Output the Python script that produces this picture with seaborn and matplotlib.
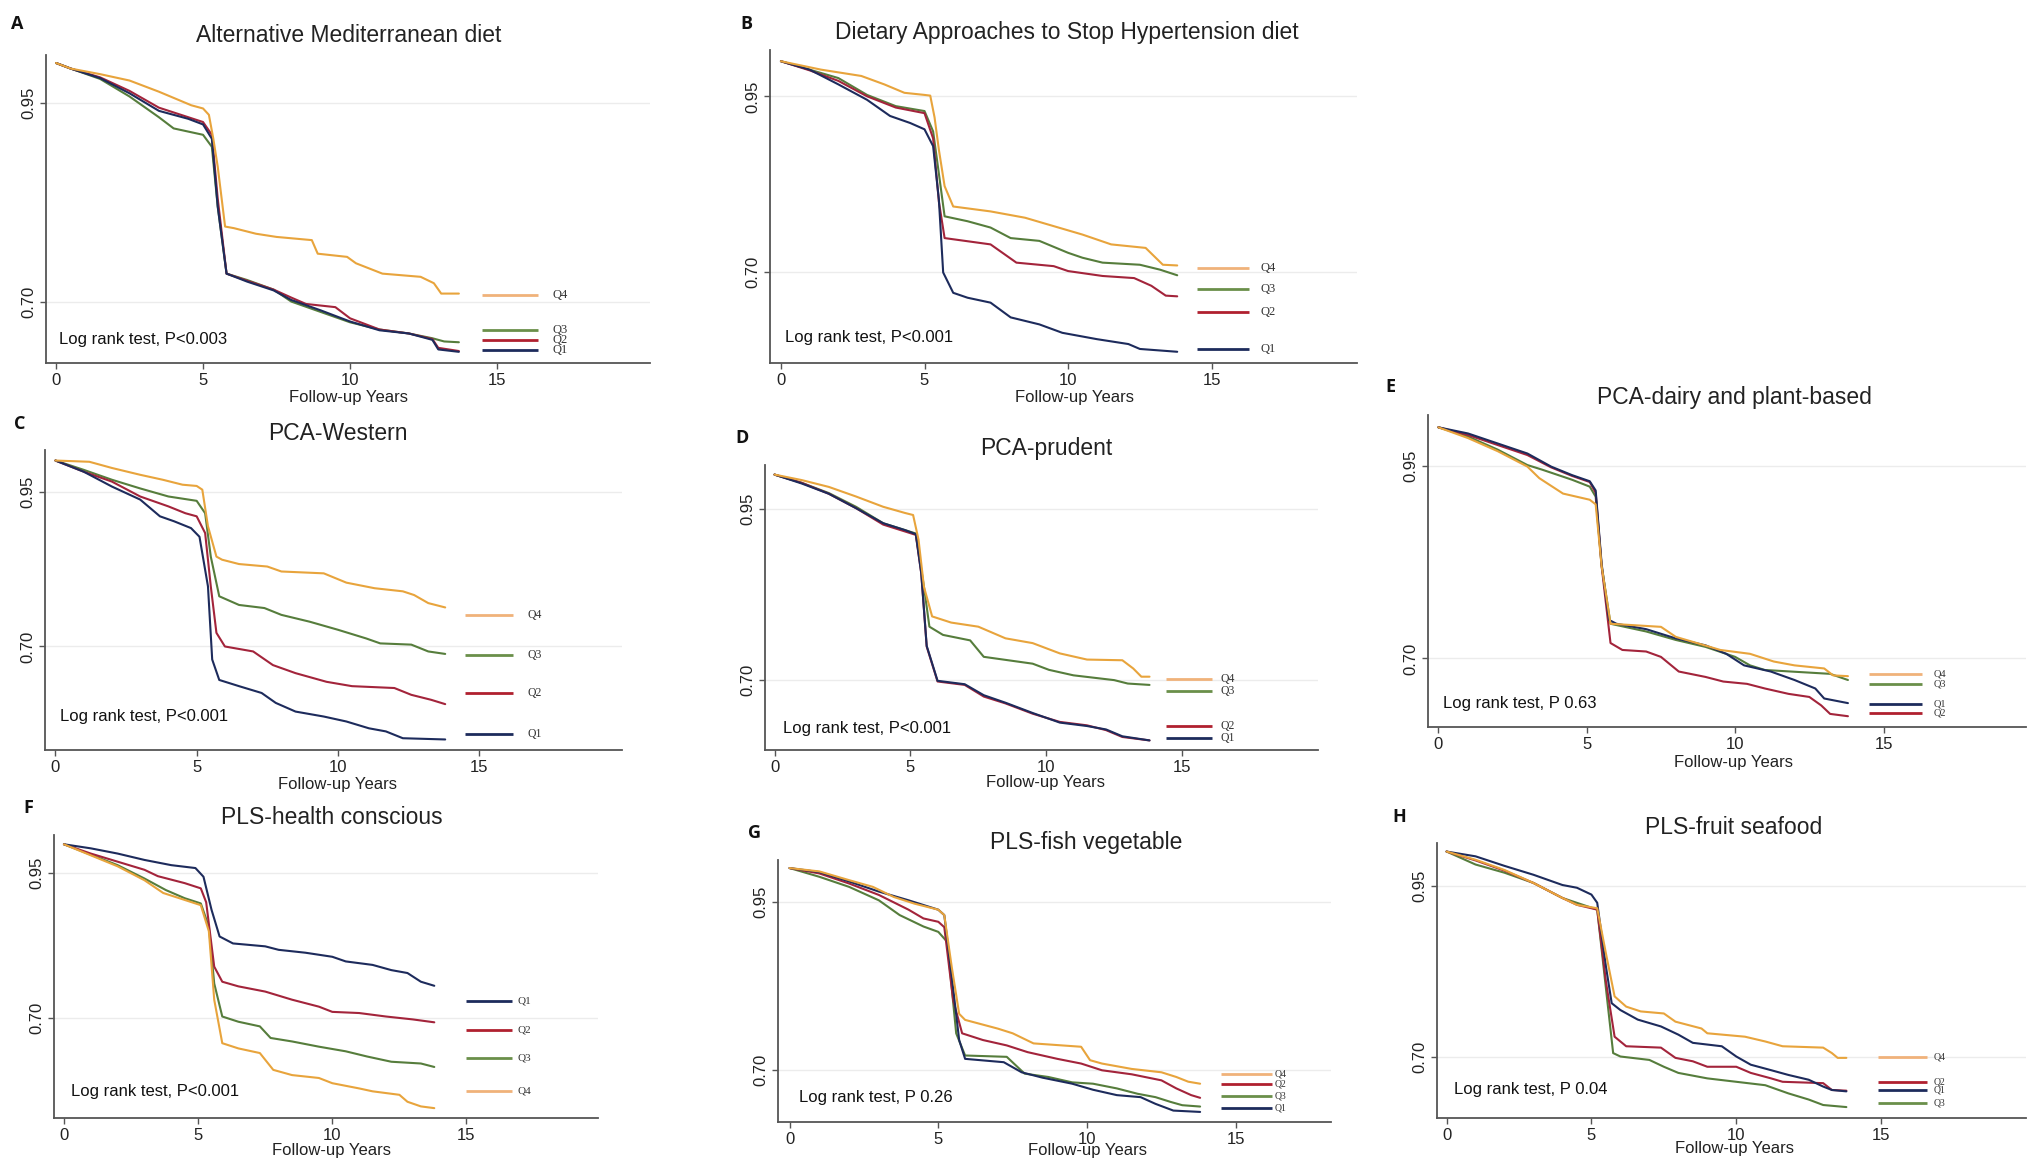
import pandas as pd
import numpy as np
import matplotlib
matplotlib.use("Agg")
import matplotlib.pyplot as plt
import seaborn as sns

# ---------------- data: (follow-up years, survival) ----------------
A_Q1 = [(0, 1.0), (0.5, 0.993), (1.5, 0.981), (2.5, 0.962), (3.5, 0.94), (4.5, 0.93), (5.0, 0.923), (5.3, 0.905),
        (5.5, 0.82), (5.8, 0.736), (6.5, 0.726), (7.4, 0.715), (8.0, 0.703), (9.0, 0.69), (10.0, 0.676),
        (11.0, 0.665), (12.0, 0.661), (12.8, 0.653), (13.0, 0.641), (13.7, 0.638)]
A_Q2 = [(0, 1.0), (0.5, 0.993), (1.5, 0.982), (2.5, 0.965), (3.5, 0.944), (4.5, 0.932), (5.0, 0.926), (5.3, 0.91),
        (5.5, 0.83), (5.8, 0.736), (6.5, 0.727), (7.4, 0.716), (8.0, 0.706), (8.5, 0.698), (9.5, 0.694), (10.0, 0.68),
        (11.0, 0.666), (12.0, 0.661), (12.8, 0.654), (13.0, 0.643), (13.7, 0.639)]
A_Q3 = [(0, 1.0), (0.5, 0.993), (1.5, 0.98), (2.5, 0.958), (3.5, 0.932), (4.0, 0.918), (5.0, 0.91), (5.3, 0.895),
        (5.5, 0.82), (5.8, 0.736), (6.5, 0.728), (7.4, 0.716), (8.0, 0.701), (9.0, 0.688), (10.0, 0.675),
        (11.0, 0.666), (12.0, 0.661), (12.8, 0.655), (13.2, 0.651), (13.7, 0.65)]
A_Q4 = [(0, 1.0), (0.5, 0.993), (1.5, 0.986), (2.5, 0.978), (3.5, 0.964), (4.6, 0.947), (5.0, 0.943), (5.2, 0.935),
        (5.35, 0.905), (5.5, 0.87), (5.75, 0.795), (6.05, 0.793), (6.8, 0.786), (7.5, 0.782), (8.7, 0.778),
        (8.9, 0.761), (9.9, 0.757), (10.2, 0.749), (11.1, 0.736), (12.4, 0.732), (12.85, 0.724), (13.1, 0.711),
        (13.7, 0.711)]

B_Q1 = [(0, 1.0), (1.0, 0.988), (2.0, 0.967), (3.0, 0.945), (3.8, 0.922), (4.5, 0.912), (5.0, 0.903), (5.3, 0.879),
        (5.5, 0.803), (5.65, 0.699), (6.0, 0.67), (6.5, 0.663), (7.3, 0.656), (8.0, 0.635), (9.0, 0.625),
        (9.8, 0.613), (11.0, 0.604), (12.1, 0.597), (12.5, 0.59), (13.8, 0.586)]
B_Q2 = [(0, 1.0), (1.0, 0.987), (2.0, 0.972), (3.0, 0.95), (4.0, 0.934), (5.0, 0.926), (5.3, 0.89), (5.5, 0.8),
        (5.7, 0.748), (7.3, 0.739), (8.2, 0.713), (9.5, 0.708), (10.0, 0.701), (11.2, 0.694), (12.3, 0.691),
        (12.9, 0.68), (13.4, 0.666), (13.8, 0.665)]
B_Q3 = [(0, 1.0), (1.0, 0.988), (2.0, 0.976), (3.0, 0.952), (4.0, 0.936), (5.0, 0.929), (5.3, 0.9), (5.5, 0.84),
        (5.7, 0.779), (6.5, 0.772), (7.3, 0.763), (8.0, 0.748), (9.0, 0.744), (10.0, 0.727), (10.5, 0.72),
        (11.2, 0.713), (12.5, 0.71), (13.2, 0.703), (13.8, 0.695)]
B_Q4 = [(0, 1.0), (1.4, 0.988), (2.8, 0.979), (3.6, 0.967), (4.3, 0.955), (5.0, 0.952), (5.2, 0.951), (5.35, 0.92),
        (5.5, 0.874), (5.7, 0.822), (6.0, 0.793), (7.3, 0.786), (8.5, 0.777), (9.5, 0.765), (10.5, 0.753),
        (11.5, 0.739), (12.7, 0.734), (13.0, 0.722), (13.3, 0.71), (13.8, 0.709)]

C_Q1 = [(0, 1.0), (1.0, 0.982), (2.0, 0.958), (3.0, 0.937), (3.7, 0.91), (4.2, 0.902), (4.8, 0.891), (5.1, 0.877),
        (5.4, 0.797), (5.55, 0.679), (5.8, 0.646), (6.5, 0.636), (7.3, 0.625), (7.8, 0.609), (8.5, 0.595),
        (9.5, 0.587), (10.3, 0.579), (11.1, 0.568), (11.7, 0.563), (12.3, 0.552), (13.8, 0.55)]
C_Q2 = [(0, 1.0), (1.0, 0.982), (2.0, 0.966), (3.0, 0.942), (4.0, 0.926), (4.6, 0.915), (5.0, 0.91), (5.3, 0.883),
        (5.5, 0.797), (5.7, 0.722), (6.0, 0.70), (7.0, 0.692), (7.7, 0.67), (8.5, 0.657), (9.6, 0.643),
        (10.5, 0.636), (12.0, 0.633), (12.6, 0.622), (13.3, 0.614), (13.8, 0.607)]
C_Q3 = [(0, 1.0), (1.0, 0.985), (2.0, 0.969), (3.0, 0.955), (4.0, 0.942), (5.0, 0.935), (5.3, 0.915), (5.5, 0.845),
        (5.8, 0.781), (6.5, 0.767), (7.4, 0.762), (8.0, 0.751), (9.0, 0.74), (10.0, 0.727), (11.0, 0.713),
        (11.5, 0.705), (12.6, 0.703), (13.2, 0.692), (13.8, 0.688)]
C_Q4 = [(0, 1.0), (1.2, 0.998), (2.0, 0.988), (3.0, 0.977), (3.8, 0.969), (4.5, 0.961), (5.0, 0.959), (5.2, 0.953),
        (5.4, 0.894), (5.7, 0.845), (5.9, 0.84), (6.5, 0.833), (7.5, 0.829), (8.0, 0.821), (9.5, 0.818),
        (10.3, 0.803), (11.3, 0.794), (12.3, 0.789), (12.7, 0.783), (13.2, 0.77), (13.8, 0.763)]

D_Q1 = [(0, 1.0), (1.0, 0.987), (2.0, 0.972), (3.0, 0.951), (4.0, 0.929), (4.8, 0.919), (5.2, 0.913), (5.4, 0.856),
        (5.6, 0.75), (6.0, 0.699), (7.0, 0.694), (7.7, 0.678), (8.5, 0.667), (9.5, 0.652), (10.5, 0.638),
        (11.5, 0.633), (12.2, 0.628), (12.8, 0.618), (13.8, 0.612)]
D_Q2 = [(0, 1.0), (1.0, 0.988), (2.0, 0.972), (3.0, 0.951), (4.0, 0.927), (4.8, 0.917), (5.2, 0.912), (5.4, 0.856),
        (5.6, 0.749), (6.0, 0.698), (7.0, 0.693), (7.7, 0.676), (8.5, 0.666), (9.5, 0.651), (10.5, 0.639),
        (11.5, 0.634), (12.2, 0.627), (12.8, 0.617), (13.8, 0.612)]
D_Q3 = [(0, 1.0), (1.0, 0.988), (2.0, 0.973), (3.0, 0.953), (4.0, 0.929), (4.8, 0.919), (5.2, 0.914), (5.5, 0.836),
        (5.7, 0.778), (6.2, 0.766), (7.2, 0.758), (7.7, 0.734), (9.5, 0.724), (10.1, 0.715), (11.0, 0.707),
        (12.5, 0.70), (13.0, 0.695), (13.8, 0.693)]
D_Q4 = [(0, 1.0), (1.0, 0.992), (2.0, 0.982), (3.0, 0.968), (4.0, 0.953), (4.8, 0.944), (5.1, 0.941), (5.3, 0.905),
        (5.5, 0.836), (5.8, 0.793), (6.5, 0.784), (7.5, 0.778), (8.5, 0.761), (9.5, 0.754), (10.5, 0.739),
        (11.5, 0.73), (12.8, 0.729), (13.2, 0.717), (13.5, 0.705), (13.8, 0.705)]

E_Q1 = [(0, 1.0), (1.0, 0.992), (2.0, 0.979), (3.0, 0.966), (3.8, 0.949), (4.5, 0.938), (5.1, 0.93), (5.3, 0.918),
        (5.5, 0.823), (5.75, 0.75), (6.0, 0.745), (7.0, 0.738), (8.0, 0.726), (9.0, 0.717), (9.7, 0.706),
        (10.3, 0.691), (11.2, 0.683), (12.0, 0.672), (12.7, 0.661), (13.0, 0.648), (13.8, 0.642)]
E_Q2 = [(0, 1.0), (1.0, 0.99), (2.0, 0.977), (3.0, 0.964), (3.8, 0.948), (4.5, 0.937), (5.1, 0.929), (5.3, 0.915),
        (5.5, 0.82), (5.8, 0.72), (6.2, 0.711), (7.0, 0.709), (7.5, 0.702), (8.1, 0.683), (9.0, 0.676),
        (9.6, 0.67), (10.4, 0.667), (11.0, 0.661), (11.8, 0.654), (12.5, 0.65), (12.9, 0.639), (13.2, 0.628),
        (13.8, 0.625)]
E_Q3 = [(0, 1.0), (1.0, 0.988), (2.0, 0.971), (3.0, 0.951), (3.5, 0.945), (4.5, 0.932), (5.1, 0.923), (5.3, 0.91),
        (5.5, 0.82), (5.8, 0.745), (7.0, 0.735), (8.0, 0.724), (9.0, 0.715), (10.0, 0.702), (10.5, 0.691),
        (11.0, 0.685), (13.2, 0.68), (13.8, 0.672)]
E_Q4 = [(0, 1.0), (1.0, 0.986), (2.0, 0.969), (3.0, 0.949), (3.4, 0.934), (4.2, 0.914), (5.1, 0.906), (5.3, 0.9),
        (5.5, 0.82), (5.8, 0.745), (7.5, 0.741), (8.0, 0.728), (9.5, 0.711), (10.5, 0.706), (11.3, 0.696),
        (12.0, 0.691), (13.0, 0.687), (13.3, 0.678), (13.8, 0.677)]

F_Q1 = [(0, 1.0), (1.0, 0.993), (2.0, 0.984), (3.0, 0.973), (4.0, 0.964), (4.9, 0.959), (5.2, 0.944), (5.5, 0.887),
        (5.8, 0.841), (6.3, 0.829), (7.5, 0.824), (8.0, 0.818), (9.0, 0.813), (10.0, 0.806), (10.5, 0.798),
        (11.5, 0.792), (12.2, 0.783), (12.8, 0.778), (13.3, 0.763), (13.8, 0.756)]
F_Q2 = [(0, 1.0), (1.0, 0.984), (2.0, 0.97), (3.0, 0.956), (3.5, 0.945), (4.5, 0.933), (5.1, 0.924), (5.3, 0.9),
        (5.6, 0.789), (5.9, 0.763), (6.5, 0.755), (7.5, 0.746), (8.5, 0.732), (9.5, 0.72), (10.0, 0.711),
        (11.0, 0.709), (12.0, 0.703), (13.0, 0.698), (13.8, 0.693)]
F_Q3 = [(0, 1.0), (1.0, 0.982), (2.0, 0.964), (3.0, 0.941), (3.8, 0.921), (4.5, 0.907), (5.1, 0.898), (5.4, 0.858),
        (5.6, 0.76), (5.9, 0.703), (6.5, 0.694), (7.3, 0.686), (7.7, 0.666), (8.5, 0.66), (9.5, 0.651),
        (10.5, 0.643), (11.3, 0.634), (12.2, 0.625), (13.3, 0.622), (13.8, 0.616)]
F_Q4 = [(0, 1.0), (1.0, 0.981), (2.0, 0.962), (3.0, 0.938), (3.7, 0.916), (4.5, 0.904), (5.1, 0.895), (5.4, 0.85),
        (5.6, 0.732), (5.9, 0.657), (6.5, 0.648), (7.3, 0.64), (7.8, 0.611), (8.5, 0.602), (9.5, 0.597),
        (10.0, 0.588), (11.0, 0.579), (11.5, 0.574), (12.5, 0.568), (12.8, 0.556), (13.3, 0.548), (13.8, 0.545)]

G_Q1 = [(0, 1.0), (1.0, 0.994), (2.0, 0.98), (3.0, 0.965), (4.0, 0.952), (4.5, 0.945), (5.0, 0.938), (5.2, 0.93),
        (5.5, 0.82), (5.7, 0.744), (5.9, 0.716), (7.2, 0.711), (7.8, 0.696), (8.5, 0.688), (9.5, 0.679),
        (10.2, 0.67), (11.0, 0.662), (11.8, 0.659), (12.3, 0.649), (12.9, 0.639), (13.8, 0.637)]
G_Q2 = [(0, 1.0), (1.0, 0.992), (2.0, 0.977), (3.0, 0.96), (4.0, 0.938), (4.5, 0.925), (5.0, 0.92), (5.2, 0.912),
        (5.5, 0.803), (5.8, 0.754), (6.5, 0.744), (7.3, 0.736), (8.0, 0.726), (9.0, 0.716), (9.8, 0.709),
        (10.5, 0.699), (11.5, 0.693), (12.5, 0.684), (13.0, 0.672), (13.5, 0.662), (13.8, 0.658)]
G_Q3 = [(0, 1.0), (1.0, 0.987), (2.0, 0.972), (3.0, 0.952), (3.7, 0.93), (4.5, 0.913), (5.0, 0.905), (5.3, 0.89),
        (5.6, 0.754), (5.9, 0.721), (7.3, 0.719), (7.9, 0.694), (8.7, 0.689), (9.5, 0.681), (10.2, 0.679),
        (11.0, 0.672), (11.7, 0.664), (12.3, 0.659), (12.8, 0.652), (13.2, 0.647), (13.8, 0.645)]
G_Q4 = [(0, 1.0), (1.0, 0.995), (2.0, 0.982), (2.8, 0.972), (3.5, 0.957), (4.2, 0.947), (5.0, 0.938), (5.2, 0.93),
        (5.45, 0.853), (5.7, 0.783), (5.9, 0.774), (7.0, 0.761), (7.5, 0.754), (8.2, 0.739), (9.8, 0.734),
        (10.1, 0.714), (10.5, 0.709), (11.5, 0.701), (12.5, 0.696), (13.0, 0.689), (13.4, 0.682), (13.8, 0.679)]

H_Q1 = [(0, 1.0), (1.0, 0.993), (2.0, 0.979), (3.0, 0.966), (4.0, 0.951), (4.5, 0.947), (5.0, 0.937), (5.2, 0.925),
        (5.5, 0.832), (5.7, 0.778), (6.0, 0.768), (6.6, 0.754), (7.4, 0.744), (8.0, 0.732), (8.5, 0.72),
        (9.5, 0.715), (10.0, 0.70), (10.5, 0.688), (11.2, 0.68), (11.8, 0.673), (12.5, 0.666), (13.0, 0.656),
        (13.3, 0.651), (13.8, 0.649)]
H_Q2 = [(0, 1.0), (1.0, 0.987), (2.0, 0.972), (3.0, 0.954), (4.0, 0.932), (4.5, 0.922), (5.2, 0.915), (5.5, 0.81),
        (5.8, 0.729), (6.2, 0.715), (7.4, 0.713), (7.9, 0.698), (8.5, 0.693), (9.0, 0.685), (10.0, 0.685),
        (10.5, 0.676), (11.2, 0.668), (11.6, 0.663), (13.0, 0.661), (13.3, 0.651), (13.8, 0.65)]
H_Q3 = [(0, 1.0), (1.0, 0.981), (2.0, 0.969), (3.0, 0.954), (4.0, 0.932), (5.2, 0.915), (5.5, 0.8), (5.75, 0.705),
        (6.0, 0.70), (7.0, 0.695), (7.5, 0.685), (8.0, 0.676), (9.0, 0.668), (10.0, 0.663), (11.0, 0.658),
        (11.8, 0.646), (12.5, 0.637), (13.0, 0.629), (13.8, 0.626)]
H_Q4 = [(0, 1.0), (1.0, 0.988), (2.0, 0.973), (3.0, 0.954), (4.0, 0.932), (4.5, 0.922), (5.2, 0.917), (5.5, 0.851),
        (5.8, 0.788), (6.2, 0.773), (6.7, 0.766), (7.5, 0.763), (7.9, 0.751), (8.8, 0.741), (9.0, 0.734),
        (10.3, 0.729), (11.0, 0.722), (11.6, 0.715), (13.0, 0.713), (13.3, 0.705), (13.5, 0.698), (13.8, 0.698)]

TITLES = ["Alternative Mediterranean diet", "Dietary Approaches to Stop Hypertension diet", "PCA-Western",
          "PCA-prudent", "PCA-dairy and plant-based", "PLS-health conscious", "PLS-fish vegetable",
          "PLS-fruit seafood"]
LETTERS = ["A", "B", "C", "D", "E", "F", "G", "H"]
LOGRANK = ["Log rank test, P<0.003", "Log rank test, P<0.001", "Log rank test, P<0.001", "Log rank test, P<0.001",
           "Log rank test, P 0.63", "Log rank test, P<0.001", "Log rank test, P 0.26", "Log rank test, P 0.04"]
SERIES = [
    {"Q1": A_Q1, "Q2": A_Q2, "Q3": A_Q3, "Q4": A_Q4},
    {"Q1": B_Q1, "Q2": B_Q2, "Q3": B_Q3, "Q4": B_Q4},
    {"Q1": C_Q1, "Q2": C_Q2, "Q3": C_Q3, "Q4": C_Q4},
    {"Q1": D_Q1, "Q2": D_Q2, "Q3": D_Q3, "Q4": D_Q4},
    {"Q1": E_Q1, "Q2": E_Q2, "Q3": E_Q3, "Q4": E_Q4},
    {"Q1": F_Q1, "Q2": F_Q2, "Q3": F_Q3, "Q4": F_Q4},
    {"Q1": G_Q1, "Q2": G_Q2, "Q3": G_Q3, "Q4": G_Q4},
    {"Q1": H_Q1, "Q2": H_Q2, "Q3": H_Q3, "Q4": H_Q4},
]

# ---------------- layout (pixels in a 2033 x 1163 canvas) ----------------
W, H = 2033, 1163
# box = (left, top, right, bottom) px ; xlim ; ylim ; title xy ; letter xy ; xlabel xy ; logrank xy (data)
LAYOUT = [
    dict(box=(46, 55, 650, 363), xlim=(-0.34, 20.2), ylim=(0.624, 1.010), title=(349, 35), letter=(17, 24),
         xlabel=(349, 398), lr=(0.1, 0.653), leg_x=(14.5, 16.4, 16.9), leg_fs=9,
         leg=[("Q4", 0.709), ("Q3", 0.665), ("Q2", 0.653), ("Q1", 0.640)]),
    dict(box=(770, 50, 1357, 363), xlim=(-0.38, 20.06), ylim=(0.570, 1.016), title=(1067, 33), letter=(746, 24),
         xlabel=(1075, 398), lr=(0.15, 0.607), leg_x=(14.5, 16.3, 16.7), leg_fs=9,
         leg=[("Q4", 0.706), ("Q3", 0.675), ("Q2", 0.643), ("Q1", 0.590)]),
    dict(box=(45, 450, 622, 750), xlim=(-0.37, 20.06), ylim=(0.533, 1.017), title=(338, 433), letter=(20, 424),
         xlabel=(338, 784), lr=(0.15, 0.587), leg_x=(14.5, 16.2, 16.7), leg_fs=8.5,
         leg=[("Q4", 0.751), ("Q3", 0.687), ("Q2", 0.625), ("Q1", 0.559)]),
    dict(box=(765, 465, 1318, 750), xlim=(-0.35, 20.0), ylim=(0.598, 1.014), title=(1046, 448), letter=(742, 438),
         xlabel=(1046, 783), lr=(0.3, 0.629), leg_x=(14.4, 16.1, 16.4), leg_fs=8.5,
         leg=[("Q4", 0.701), ("Q3", 0.684), ("Q2", 0.633), ("Q1", 0.616)]),
    dict(box=(1428, 415, 2026, 727), xlim=(-0.35, 19.8), ylim=(0.611, 1.016), title=(1734, 398), letter=(1390, 387),
         xlabel=(1734, 763), lr=(0.15, 0.642), leg_x=(14.5, 16.3, 16.7), leg_fs=7.5,
         leg=[("Q4", 0.680), ("Q3", 0.667), ("Q1", 0.641), ("Q2", 0.629)]),
    dict(box=(54, 835, 598, 1118), xlim=(-0.37, 19.9), ylim=(0.528, 1.016), title=(332, 818), letter=(28, 808),
         xlabel=(332, 1150), lr=(0.25, 0.574), leg_x=(15.0, 16.7, 16.9), leg_fs=8,
         leg=[("Q1", 0.729), ("Q2", 0.680), ("Q3", 0.631), ("Q4", 0.575)]),
    dict(box=(778, 860, 1331, 1122), xlim=(-0.39, 18.2), ylim=(0.622, 1.012), title=(1086, 843), letter=(755, 833),
         xlabel=(1088, 1151), lr=(0.3, 0.658), leg_x=(14.5, 16.2, 16.3), leg_fs=7,
         leg=[("Q4", 0.694), ("Q2", 0.678), ("Q3", 0.660), ("Q1", 0.643)]),
    dict(box=(1437, 843, 2026, 1118), xlim=(-0.33, 20.0), ylim=(0.610, 1.0125), title=(1734, 827),
         letter=(1399, 817), xlabel=(1735, 1148), lr=(0.25, 0.651), leg_x=(14.9, 16.6, 16.8), leg_fs=7,
         leg=[("Q4", 0.700), ("Q2", 0.662), ("Q1", 0.651), ("Q3", 0.632)]),
]

COLORS = {"Q1": "#1d2b5c", "Q2": "#a3243b", "Q3": "#567d3c", "Q4": "#e8a43c"}
LEG_COLORS = {"Q1": "#1d2b5c", "Q2": "#b0202f", "Q3": "#6a8f4a", "Q4": "#f0b27a"}

sns.set_theme(style="white")
plt.rcParams["font.family"] = ["Liberation Sans", "DejaVu Sans"]

fig = plt.figure(figsize=(W / 100, H / 100), dpi=100)
fig.patch.set_facecolor("white")

for i, lay in enumerate(LAYOUT):
    l, t, r, b = lay["box"]
    ax = fig.add_axes([l / W, 1 - b / H, (r - l) / W, (b - t) / H])
    ax.set_facecolor("white")

    rows = []
    for q, pts in SERIES[i].items():
        for tt, ss in pts:
            rows.append({"t": tt, "s": ss, "group": q})
    df = pd.DataFrame(rows)

    # faint reference lines at the labelled survival levels
    for yv in (0.70, 0.95):
        ax.axhline(yv, color="#ececec", lw=1.0, zorder=0)

    sns.lineplot(data=df, x="t", y="s", hue="group", hue_order=["Q3", "Q2", "Q1", "Q4"], palette=COLORS,
                 estimator=None, sort=False, legend=False, linewidth=1.5, ax=ax)

    # legend keys drawn to the right of the curves, as in Stata output
    x0, x1, xt = lay["leg_x"]
    for q, yv in lay["leg"]:
        ax.plot([x0, x1], [yv, yv], color=LEG_COLORS[q], lw=2.0, solid_capstyle="butt", clip_on=False)
        ax.text(xt, yv, q, fontsize=lay["leg_fs"], family="Liberation Serif", color="#333333",
                va="center", ha="left")

    ax.text(lay["lr"][0], lay["lr"][1], LOGRANK[i], fontsize=12, color="#111111", va="center", ha="left")

    ax.set_xlim(*lay["xlim"])
    ax.set_ylim(*lay["ylim"])
    ax.set_xticks([0, 5, 10, 15])
    ax.set_xticklabels(["0", "5", "10", "15"], fontsize=12, color="#222222")
    ax.set_yticks([0.70, 0.95])
    ax.set_yticklabels(["0.70", "0.95"], rotation=90, va="center", fontsize=12, color="#222222")
    ax.set_xlabel("")
    ax.set_ylabel("")
    for side in ("top", "right"):
        ax.spines[side].set_visible(False)
    for side in ("left", "bottom"):
        ax.spines[side].set_color("#555555")
        ax.spines[side].set_linewidth(1.3)
    ax.tick_params(axis="both", direction="out", length=4, width=1.0, color="#555555", pad=3,
                   left=True, bottom=True)
    ax.grid(False)

    fig.text(lay["title"][0] / W, 1 - lay["title"][1] / H, TITLES[i], fontsize=16.5, color="#222222",
             ha="center", va="center")
    fig.text(lay["letter"][0] / W, 1 - lay["letter"][1] / H, LETTERS[i], fontsize=13, fontweight="bold",
             family=["Open Sans", "DejaVu Sans"], color="#111111", ha="center", va="center")
    fig.text(lay["xlabel"][0] / W, 1 - lay["xlabel"][1] / H, "Follow-up Years", fontsize=12, color="#222222",
             ha="center", va="center")

fig.savefig("out.png", dpi=100, facecolor="white")
